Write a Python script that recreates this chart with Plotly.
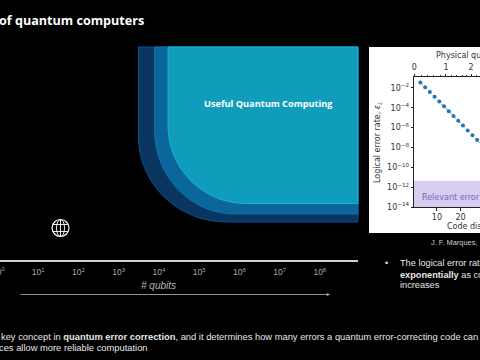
import plotly.graph_objects as go

# ---- data ----
code_distance = [3, 5, 7, 9, 11, 13, 15, 17, 19, 21, 23, 25, 27, 29]
logical_error = [3.5e-2, 1.2e-2, 3.9e-3, 1.3e-3, 4.2e-4, 1.4e-4, 4.5e-5, 1.5e-5,
                 4.8e-6, 1.6e-6, 5.0e-7, 1.7e-7, 5.6e-8, 1.8e-8]
inset_y_ticks = [1e-2, 1e-4, 1e-6, 1e-8, 1e-10, 1e-12, 1e-14]
inset_y_labels = ["10<sup>−2</sup>", "10<sup>−4</sup>", "10<sup>−6</sup>", "10<sup>−8</sup>",
                  "10<sup>−10</sup>", "10<sup>−12</sup>", "10<sup>−14</sup>"]
inset_x_ticks = [10, 20]
phys_tick_pos = [0.4, 13.8, 24.4]
phys_tick_labels = ["0", "1", "2"]
phys_minor_pos = [3.3, 6.2, 8.7, 11.3, 16.3, 18.4, 20.6, 22.7, 26.9]
band_x = [0.3, 28.2, 28.2, 0.3]
band_y = [4.4e-12, 4.4e-12, 1e-14, 1e-14]
qubit_ticks = [1e1, 1e2, 1e3, 1e4, 1e5, 1e6, 1e7, 1e8]
qubit_labels = ["10<sup>%d</sup>" % i for i in range(1, 9)]

W, H = 480, 360
SANS = "Liberation Sans"
DJ = "DejaVu Sans"


def px(x):
    return x / W


def py(y):
    return 1 - y / H


fig = go.Figure()

# inset: purple band and curve
fig.add_trace(go.Scatter(x=band_x, y=band_y, fill="toself", mode="lines", line=dict(width=0),
                         fillcolor="#d8cdee", hoverinfo="skip", xaxis="x", yaxis="y"))
fig.add_trace(go.Scatter(x=code_distance, y=logical_error, mode="lines+markers",
                         line=dict(color="#1f77b4", width=0.8, dash="dot"),
                         marker=dict(color="#1f77b4", size=4), xaxis="x", yaxis="y"))
# axis of qubits carries an invisible trace
fig.add_trace(go.Scatter(x=qubit_ticks, y=[0] * len(qubit_ticks), mode="markers",
                         marker=dict(opacity=0), xaxis="x3", yaxis="y3", hoverinfo="skip"))
# top axis
fig.add_trace(go.Scatter(x=phys_tick_pos, y=[1e-3] * 3, mode="markers", marker=dict(opacity=0),
                         xaxis="x2", yaxis="y", hoverinfo="skip"))

tickf = dict(family=DJ, size=8, color="#333333")
fig.update_layout(
    width=W, height=H, margin=dict(l=0, r=0, t=0, b=0, autoexpand=False), showlegend=False,
    paper_bgcolor="#000000", plot_bgcolor="rgba(0,0,0,0)",
    xaxis=dict(domain=[px(414), 1], range=[0.3, 28.2], tickvals=inset_x_ticks, tickfont=tickf,
               showgrid=False, zeroline=False, showline=True, linecolor="#222", linewidth=0.7,
               ticks="outside", ticklen=3, tickwidth=0.7, tickcolor="#222", anchor="y"),
    yaxis=dict(domain=[py(207), py(77)], type="log", range=[-14, -0.9], tickvals=inset_y_ticks,
               ticktext=inset_y_labels, tickfont=tickf, showgrid=False, zeroline=False,
               showline=True, linecolor="#222", linewidth=0.7, ticks="outside", ticklen=2.5,
               tickwidth=0.7, tickcolor="#222", anchor="x"),
    xaxis2=dict(domain=[px(414), 1], range=[0.3, 28.2], overlaying="x", side="top", anchor="y",
                tickvals=phys_tick_pos, ticktext=phys_tick_labels, tickfont=tickf, showgrid=False,
                zeroline=False, showline=True, linecolor="#222", linewidth=0.7, ticks="outside",
                ticklen=2.5, tickwidth=0.7, tickcolor="#222",
                minor=dict(tickvals=phys_minor_pos, ticks="outside", ticklen=1.5, tickwidth=0.6,
                           tickcolor="#333", showgrid=False)),
    xaxis3=dict(domain=[0, px(358)], type="log", range=[0.05, 8.95], tickvals=qubit_ticks,
                ticktext=qubit_labels, tickfont=dict(family=SANS, size=8.5, color="#a8a8a8"),
                showgrid=False, zeroline=False, showline=True, linecolor="#d0d0d0", linewidth=2,
                ticks="outside", ticklen=3, tickcolor="rgba(0,0,0,0)", anchor="y3"),
    yaxis3=dict(domain=[py(260), py(230)], range=[0, 1], visible=False, anchor="x3"),
    xaxis4=dict(domain=[0, 1], range=[0, W], visible=False, anchor="y4", fixedrange=True),
    yaxis4=dict(domain=[0, 1], range=[H, 0], visible=False, anchor="x4", fixedrange=True),
)
fig.add_trace(go.Scatter(x=[0], y=[0], mode="markers", marker=dict(opacity=0),
                         xaxis="x4", yaxis="y4", hoverinfo="skip"))


def region(left, bottom, rx, ry, fill, edge):
    k = 0.5523
    top, right = 47, 358
    path = (f"M{left},{top} L{left},{bottom - ry} "
            f"C{left},{bottom - ry + k * ry} {left + rx - k * rx},{bottom} {left + rx},{bottom} "
            f"L{right},{bottom} L{right},{top} Z")
    return dict(type="path", path=path, xref="x4", yref="y4", fillcolor=fill,
                line=dict(color=edge, width=1), layer="below")


shapes = [
    dict(type="rect", xref="paper", yref="paper", x0=px(369), x1=1, y0=py(233), y1=py(47), fillcolor="#ffffff",
         line=dict(width=0), layer="below"),
    region(138.5, 222, 88, 85, "#0a3560", "#0b4f8e"),
    region(154.5, 214, 80, 84, "#0b679b", "#0b72a8"),
    region(168, 203.5, 78, 78, "#0f9dbb", "#18b4cc"),
]
# globe icon
gx, gy = 60.5, 228
wc = dict(color="#ffffff", width=1.2)
thin = dict(color="#ffffff", width=0.9)
shapes += [
    dict(type="circle", xref="x4", yref="y4", x0=gx - 8.5, x1=gx + 8.5, y0=gy - 8.5, y1=gy + 8.5, line=wc, layer="above"),
    dict(type="circle", xref="x4", yref="y4", x0=gx - 4, x1=gx + 4, y0=gy - 8.5, y1=gy + 8.5, line=thin, layer="above"),
    dict(type="line", xref="x4", yref="y4", x0=gx, x1=gx, y0=gy - 8.5, y1=gy + 8.5, line=thin, layer="above"),
    dict(type="line", xref="x4", yref="y4", x0=gx - 7.5, x1=gx + 7.5, y0=gy - 3.5, y1=gy - 3.5, line=thin, layer="above"),
    dict(type="line", xref="x4", yref="y4", x0=gx - 7.5, x1=gx + 7.5, y0=gy + 3.5, y1=gy + 3.5, line=thin, layer="above"),
]
fig.update_layout(shapes=shapes)


def txt(x, y, s, size=8.5, color="#e6e6e6", family=SANS, anchor="left", angle=0):
    fig.add_annotation(x=px(x), y=py(y), xref="paper", yref="paper", text=s, showarrow=False,
                       xanchor=anchor, yanchor="middle", textangle=angle, align="left",
                       font=dict(size=size, color=color, family=family))


txt(-3, 20, "<b>of quantum computers</b>", size=12.6, color="#ffffff", family="Open Sans")
txt(268, 104, "<b>Useful Quantum Computing</b>", size=9.2, color="#ffffff", family="Open Sans", anchor="center")
txt(-2, 271, "10<sup>0</sup>", size=8.5, color="#a8a8a8", anchor="center")
txt(158, 285, "<i># qubits</i>", size=10, color="#b8b8b8", anchor="center")
txt(434, 55.5, "Physical qubits (millions)", size=8, color="#333333", family=DJ)
txt(445, 226.5, "Code distance", size=8, color="#333333", family=DJ)
txt(378, 143, "Logical error rate, <i>ε<sub>L</sub></i>", size=8, color="#333333", family=DJ, anchor="center", angle=-90)
txt(419.5, 197, "Relevant error rates", size=8, color="#7d62c4", family=DJ)
txt(429, 242, "J. F. Marques,", size=7.4, color="#d0d0d0")
txt(383, 263, "•", size=9)
txt(398, 263, "The logical error rate", size=9.2)
txt(398, 274.5, "<b>exponentially</b> as code", size=9.2)
txt(398, 285, "increases", size=9.2)
txt(-1, 336.5, "key concept in <b>quantum error correction</b>, and it determines how many errors a quantum error-correcting code can", size=9.35)
txt(-3, 348, "ces allow more reliable computation", size=9.35)

fig.add_annotation(x=px(330), y=py(294.5), ax=-311, ay=0, xref="paper", yref="paper",
                   axref="pixel", ayref="pixel", showarrow=True, text="", arrowhead=2,
                   arrowsize=0.8, arrowwidth=0.8, arrowcolor="#b8b8b8")

fig.write_html("out.html", config=dict(displayModeBar=False),
               post_script="document.body.style.margin='0';document.body.style.overflow='hidden';")
